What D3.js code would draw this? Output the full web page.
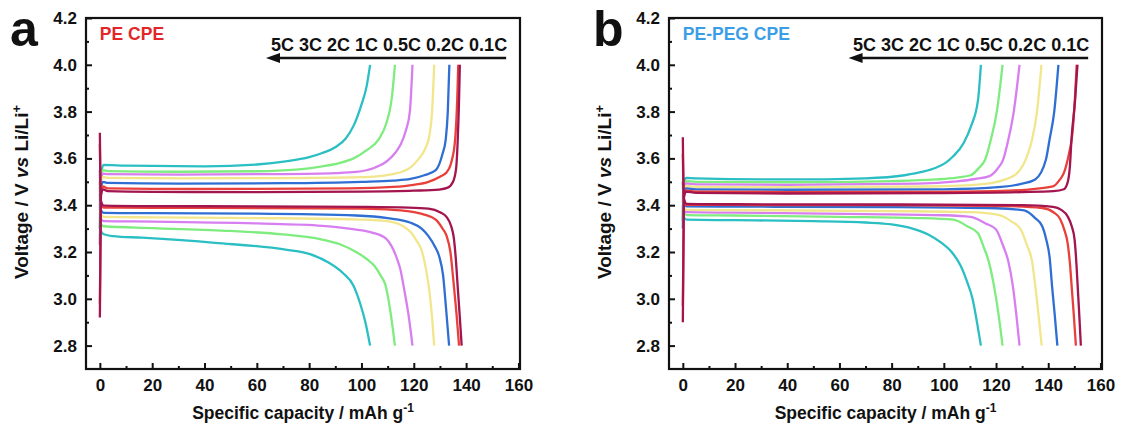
<!DOCTYPE html>
<html>
<head>
<meta charset="utf-8">
<script src="https://cdn.jsdelivr.net/npm/d3@7"></script>
<style>
  body { margin: 0; background: #fff; }
  svg { display: block; font-family: "Liberation Sans", Arial, sans-serif; font-weight: bold; }
  .tick text { font-size: 17px; font-weight: bold; fill: #111; }
  .axis-label { fill: #111; }
</style>
</head>
<body>
<div id="chart"></div>
<script>
// C-rates, ordered 0.1C -> 5C
const rates = ["0.1C", "0.2C", "0.5C", "1C", "2C", "3C", "5C"];
const rateColors = ["#a3154f", "#e8413c", "#2f6fd3", "#f1e68c", "#d77ff0", "#7fec7f", "#2bbfc4"];

const xTicks = [0, 20, 40, 60, 80, 100, 120, 140, 160];
const xMinor = [10, 30, 50, 70, 90, 110, 130, 150];
const yTicks = [2.8, 3.0, 3.2, 3.4, 3.6, 3.8, 4.0, 4.2];
const yMinor = [2.9, 3.1, 3.3, 3.5, 3.7, 3.9, 4.1];

// panel a : PE CPE  [capacity mAh/g, voltage V], one list per rate
const peCharge = [
  [[0,2.92],[0.4,3.44],[1.2,3.468],[3,3.46],[20,3.457],[60,3.456],[100,3.458],[120,3.462],[129.7,3.467],[133,3.475],[135,3.5],[136.2,3.56],[136.8,3.68],[137.3,3.85],[137.6,4.0]],
  [[0,2.98],[0.4,3.45],[1.2,3.48],[3,3.472],[20,3.47],[60,3.47],[95,3.472],[112,3.478],[120,3.487],[125.6,3.5],[130,3.522],[132.5,3.54],[134.5,3.59],[135.8,3.68],[136.6,3.85],[137,4.0]],
  [[0,3.23],[0.4,3.47],[1.2,3.5],[3,3.495],[30,3.492],[70,3.494],[100,3.5],[112,3.505],[118.8,3.512],[124,3.528],[128.4,3.55],[131,3.62],[132.2,3.68],[133,3.8],[133.6,4.0]],
  [[0,3.36],[0.4,3.5],[1.2,3.52],[3,3.517],[30,3.515],[70,3.516],[100,3.52],[105,3.522],[112,3.533],[116,3.545],[118.8,3.562],[122,3.6],[124.5,3.645],[126,3.7],[127,3.8],[127.8,4.0]],
  [[0,3.38],[0.4,3.51],[1.2,3.535],[3,3.533],[30,3.531],[70,3.533],[90,3.537],[98,3.542],[105,3.56],[110,3.59],[113,3.625],[115,3.66],[117,3.72],[118.5,3.8],[119.5,4.0]],
  [[0,3.3],[0.4,3.52],[1.2,3.55],[3,3.546],[30,3.543],[60,3.545],[75,3.552],[85,3.566],[91.5,3.58],[97,3.6],[102,3.635],[106.5,3.68],[109.5,3.75],[111.5,3.85],[112.8,4.0]],
  [[0,3.3],[0.4,3.53],[1.4,3.572],[10,3.569],[40,3.566],[60,3.574],[71,3.587],[80,3.605],[85,3.623],[90,3.648],[94,3.685],[97,3.74],[100,3.83],[102,3.91],[103.3,4.0]]
];
const peDischarge = [
  [[0,3.71],[0.4,3.42],[1.5,3.398],[20,3.396],[60,3.395],[100,3.393],[118,3.39],[125.6,3.385],[130,3.37],[132.5,3.35],[134.3,3.31],[135.3,3.26],[136,3.18],[136.8,3.05],[137.6,2.92],[138.3,2.8]],
  [[0,3.66],[0.4,3.41],[1.5,3.39],[20,3.389],[60,3.388],[100,3.385],[112,3.38],[118.8,3.373],[124,3.36],[128.4,3.338],[131,3.3],[132.5,3.27],[134,3.2],[135.2,3.07],[136.3,2.94],[137.3,2.8]],
  [[0,3.55],[0.4,3.38],[1.5,3.367],[20,3.366],[60,3.364],[98,3.356],[110,3.345],[118.8,3.325],[123,3.3],[125.6,3.268],[128,3.225],[129.7,3.182],[131.2,3.1],[132.4,2.95],[133.5,2.8]],
  [[0,3.5],[0.4,3.36],[1.5,3.35],[20,3.348],[60,3.345],[95,3.34],[105,3.336],[112,3.328],[116,3.31],[118.8,3.285],[121,3.25],[122.9,3.21],[124.6,3.13],[126,3.03],[127,2.92],[127.8,2.8]],
  [[0,3.5],[0.4,3.34],[1.5,3.332],[20,3.33],[60,3.322],[85,3.312],[98,3.296],[104,3.283],[109.3,3.258],[111.5,3.225],[113.4,3.177],[115,3.12],[116.1,3.054],[118,2.93],[119.5,2.8]],
  [[0,3.48],[0.4,3.32],[1.5,3.31],[20,3.302],[50,3.29],[70,3.275],[84.6,3.254],[92,3.232],[98.3,3.198],[102,3.17],[105,3.14],[107.3,3.1],[109.3,3.054],[111,2.95],[112.8,2.8]],
  [[0,3.45],[0.4,3.29],[1.5,3.276],[5,3.268],[16,3.261],[44,3.239],[71,3.21],[80.6,3.19],[87.4,3.155],[92.9,3.11],[97,3.055],[99.5,2.98],[101.5,2.9],[103.3,2.8]]
];

// panel b : PE-PEG CPE
const pegCharge = [
  [[0,2.9],[0.4,3.43],[1.2,3.458],[5,3.453],[40,3.45],[100,3.452],[130,3.456],[142,3.46],[146,3.468],[147.5,3.5],[148.3,3.566],[148.9,3.68],[150.3,3.85],[151.2,4.0]],
  [[0,2.97],[0.4,3.44],[1.2,3.462],[5,3.458],[40,3.456],[100,3.457],[125,3.462],[135,3.47],[141.8,3.48],[144.5,3.51],[146,3.538],[148,3.623],[149.2,3.7],[150.2,3.85],[150.9,4.0]],
  [[0,3.3],[0.4,3.45],[1.2,3.472],[5,3.468],[40,3.466],[100,3.468],[122,3.478],[130,3.492],[135,3.51],[139.1,3.594],[140.5,3.68],[142.3,3.8],[143.9,4.0]],
  [[0,3.35],[0.4,3.46],[1.2,3.482],[5,3.478],[40,3.477],[95,3.48],[115,3.49],[123,3.508],[128.2,3.538],[132.3,3.623],[133.8,3.68],[135.7,3.8],[137.4,4.0]],
  [[0,3.36],[0.4,3.47],[1.2,3.493],[5,3.489],[40,3.487],[90,3.492],[105,3.502],[112,3.512],[117.2,3.523],[120.5,3.555],[122.7,3.594],[124.7,3.68],[126.8,3.8],[129,4.0]],
  [[0,3.34],[0.4,3.48],[1.2,3.503],[5,3.5],[40,3.498],[80,3.503],[97,3.51],[105,3.518],[110.3,3.528],[113.5,3.56],[115.8,3.594],[118,3.68],[120.3,3.8],[122.5,4.0]],
  [[0,3.33],[0.4,3.49],[1.2,3.517],[5,3.515],[40,3.51],[70,3.515],[85,3.528],[92,3.543],[96.7,3.559],[100.5,3.58],[103.6,3.609],[107.6,3.666],[110.5,3.74],[113.1,3.85],[114.2,4.0]]
];
const pegDischarge = [
  [[0,3.69],[0.4,3.43],[1.5,3.406],[20,3.404],[80,3.403],[130,3.4],[141.8,3.393],[145,3.38],[147.4,3.353],[149,3.31],[150.1,3.253],[150.8,3.15],[151.3,3.05],[151.9,2.93],[152.5,2.8]],
  [[0,3.62],[0.4,3.42],[1.5,3.402],[20,3.401],[80,3.4],[125,3.396],[137.7,3.388],[142,3.37],[144.6,3.34],[146.3,3.29],[147.4,3.24],[148.4,3.14],[149,3.05],[149.8,2.93],[150.6,2.8]],
  [[0,3.5],[0.4,3.41],[1.5,3.395],[20,3.394],[80,3.392],[120,3.387],[130.8,3.378],[135,3.345],[137.7,3.31],[139.3,3.25],[140.5,3.18],[141.5,3.05],[142.5,2.93],[143.5,2.8]],
  [[0,3.45],[0.4,3.395],[1.5,3.38],[20,3.379],[80,3.375],[110,3.37],[121.3,3.358],[126,3.33],[129.5,3.296],[131.8,3.23],[133.8,3.16],[135.1,3.05],[136.3,2.93],[137.5,2.8]],
  [[0,3.44],[0.4,3.385],[1.5,3.37],[20,3.368],[70,3.362],[100,3.357],[110.3,3.35],[116,3.322],[120,3.296],[122.6,3.23],[124.7,3.16],[126.5,3.05],[127.8,2.93],[129,2.8]],
  [[0,3.42],[0.4,3.37],[1.5,3.358],[20,3.356],[60,3.35],[90,3.345],[103.6,3.338],[109,3.31],[113.1,3.28],[115.3,3.22],[117.2,3.16],[119.3,3.05],[121,2.93],[122.5,2.8]],
  [[0,3.4],[0.4,3.35],[1.5,3.338],[20,3.336],[50,3.332],[70,3.326],[80,3.318],[88,3.3],[94,3.275],[99,3.24],[103,3.2],[106.5,3.14],[109,3.07],[111,3.0],[112.7,2.9],[114.2,2.8]]
];

const width = 1123, height = 432;

const svg = d3.select("#chart")
    .append("svg")
    .attr("width", width)
    .attr("height", height);

const drawPanel = (opts) => {
    const xScale = d3.scaleLinear().domain([-5.3, 160.6]).range([opts.left, opts.right]);
    const yScale = d3.scaleLinear().domain([2.7, 4.2]).range([369, 18]);
    const g = svg.append("g");

    const line = d3.line()
        .x(d => xScale(d[0]))
        .y(d => yScale(d[1]))
        .curve(d3.curveMonotoneX);

    // draw fastest rate first so 0.1C sits on top
    for (let i = rates.length - 1; i >= 0; i--) {
        [opts.charge[i], opts.discharge[i]].forEach(pts => {
            g.append("path")
                .attr("d", line(pts))
                .attr("fill", "none")
                .attr("stroke", rateColors[i])
                .attr("stroke-width", 2.3)
                .attr("stroke-linejoin", "round");
        });
    }

    // axes with inward ticks
    const bottom = d3.axisBottom(xScale).tickValues(xTicks).tickFormat(d3.format("d"))
        .tickSizeInner(-6).tickSizeOuter(0).tickPadding(10);
    const bottomMinor = d3.axisBottom(xScale).tickValues(xMinor).tickFormat("")
        .tickSizeInner(-3).tickSizeOuter(0);
    const left = d3.axisLeft(yScale).tickValues(yTicks).tickFormat(d3.format(".1f"))
        .tickSizeInner(-6).tickSizeOuter(0).tickPadding(9);
    const leftMinor = d3.axisLeft(yScale).tickValues(yMinor).tickFormat("")
        .tickSizeInner(-3).tickSizeOuter(0);

    [[bottom, `translate(0,369)`], [bottomMinor, `translate(0,369)`],
     [left, `translate(${opts.left},0)`], [leftMinor, `translate(${opts.left},0)`]]
        .forEach(([ax, tr]) => {
            const a = g.append("g").attr("transform", tr).call(ax);
            a.select(".domain").remove();
            a.selectAll(".tick line").attr("stroke", "#111").attr("stroke-width", 2);
        });

    // frame
    g.append("rect")
        .attr("x", opts.left).attr("y", 18)
        .attr("width", opts.right - opts.left).attr("height", 369 - 18)
        .attr("fill", "none").attr("stroke", "#111").attr("stroke-width", 2.2);

    // panel letter
    g.append("text").text(opts.letter)
        .attr("x", opts.left - 76).attr("y", 46)
        .attr("font-size", 50).attr("fill", "#111");

    // sample name
    g.append("text").text(opts.title)
        .attr("x", xScale(0)).attr("y", 40)
        .attr("font-size", 17.5).attr("fill", opts.titleColor);

    // rate labels and arrow
    const arrowRight = xScale(155.3), arrowLeft = xScale(63.5);
    g.append("text").text(rates.slice().reverse().join(" "))
        .attr("x", arrowRight + 1).attr("y", 51)
        .attr("text-anchor", "end")
        .attr("font-size", 18).attr("fill", "#111");
    g.append("line")
        .attr("x1", arrowRight).attr("x2", arrowLeft + 10)
        .attr("y1", 58).attr("y2", 58)
        .attr("stroke", "#111").attr("stroke-width", 2.6);
    g.append("path")
        .attr("d", `M${arrowLeft},58 L${arrowLeft + 14},53 L${arrowLeft + 14},63 Z`)
        .attr("fill", "#111");

    // axis labels
    g.append("text")
        .attr("class", "axis-label")
        .attr("font-size", 17.5)
        .attr("x", (opts.left + opts.right) / 2)
        .attr("y", 419)
        .attr("text-anchor", "middle")
        .text("Specific capacity / mAh g")
        .append("tspan").attr("dy", -7).attr("font-size", 12).text("-1");

    const yl = g.append("text")
        .attr("class", "axis-label")
        .attr("font-size", 19)
        .attr("transform", `translate(${opts.left - 58},192) rotate(-90)`)
        .attr("text-anchor", "middle");
    yl.append("tspan").text("Voltage / V ");
    yl.append("tspan").attr("font-style", "italic").text("vs");
    yl.append("tspan").text(" Li/Li");
    yl.append("tspan").attr("dy", -7).attr("font-size", 13).text("+");
};

drawPanel({ left: 86, right: 520, letter: "a", title: "PE CPE", titleColor: "#e3262a",
            charge: peCharge, discharge: peDischarge });
drawPanel({ left: 669, right: 1102, letter: "b", title: "PE-PEG CPE", titleColor: "#3a9ee6",
            charge: pegCharge, discharge: pegDischarge });
</script>
</body>
</html>
